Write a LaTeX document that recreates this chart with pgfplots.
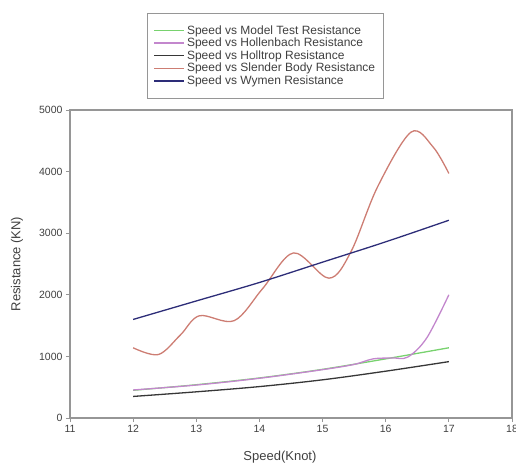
\documentclass[border=0pt]{standalone}
\usepackage{fontspec}
\setmainfont{Liberation Sans}
\usepackage{pgfplots}
\pgfplotsset{compat=1.18}
\definecolor{modelclr}{RGB}{120,210,110}
\definecolor{hollclr}{RGB}{195,135,205}
\definecolor{holtclr}{RGB}{55,55,55}
\definecolor{slendclr}{RGB}{205,125,115}
\definecolor{wymclr}{RGB}{45,45,120}
\definecolor{frameclr}{RGB}{150,150,150}

\begin{document}
\begin{tikzpicture}
\path[use as bounding box] (-70pt,-45pt) rectangle (446pt,418pt);
\begin{axis}[
  at={(0,0)}, anchor=south west,
  scale only axis,
  width=442pt, height=308pt,
  xmin=11, xmax=18, ymin=0, ymax=5000,
  xtick={11,12,...,18},
  ytick={0,1000,...,5000},
  scaled ticks=false,
  /pgf/number format/set thousands separator={},
  /pgf/number format/assume math mode=true,
  tick align=outside,
  xtick pos=left, ytick pos=left,
  major tick length=4pt,
  tick style={frameclr, line width=0.8pt},
  axis line style={frameclr, line width=1.2pt},
  tick label style={font=\fontsize{10.5}{12}\selectfont, text=black!75},
  xlabel={Speed(Knot)},
  ylabel={Resistance (KN)},
  xlabel style={font=\fontsize{13}{15}\selectfont, text=black!75,
                at={(axis description cs:0.475,-0.127)}, anchor=center},
  ylabel style={font=\fontsize{13}{15}\selectfont, text=black!75,
                at={(axis description cs:-0.12,0.5)}, anchor=center},
  legend style={at={(axis description cs:0.442,1.315)}, anchor=north,
                draw=frameclr, line width=0.8pt,
                font=\fontsize{12}{13}\selectfont, text=black!75,
                row sep=-1.6pt, inner xsep=6pt, inner ysep=10pt},
  legend cell align=left,
  legend image code/.code={\draw[#1, line width=1.5pt] (0pt,0pt) -- (30pt,0pt);},
  every axis plot/.append style={line width=1.3pt, smooth, tension=0.55},
]
\addplot[modelclr] coordinates {
  (12,450) (13,540) (14,650) (15,790) (16,960) (17,1140)};
\addplot[hollclr] coordinates {
  (12,455) (13,535) (14,645) (15,785) (15.5,870) (15.8,960)
  (16.1,975) (16.35,990) (16.65,1300) (17,2000)};
\addplot[holtclr] coordinates {
  (12,350) (13,425) (14,510) (15,620) (16,760) (17,915)};
\addplot[slendclr] coordinates {
  (12,1140) (12.4,1030) (12.75,1350) (13.05,1660) (13.6,1580)
  (14.05,2100) (14.54,2680) (15.1,2270) (15.45,2700) (15.87,3750)
  (16.4,4640) (16.75,4400) (17,3970)};
\addplot[wymclr] coordinates {
  (12,1600) (13,1900) (14,2200) (15,2530) (16,2860) (17,3210)};
\legend{Speed vs Model Test Resistance, Speed vs Hollenbach Resistance,
        Speed vs Holltrop Resistance, Speed vs Slender Body Resistance,
        Speed vs Wymen Resistance}
\end{axis}
\end{tikzpicture}
\end{document}
